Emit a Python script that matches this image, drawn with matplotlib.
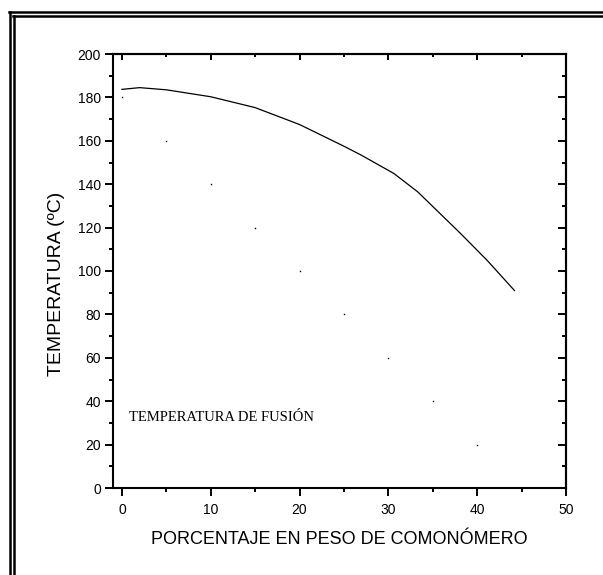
import numpy as np
import matplotlib
matplotlib.use('Agg')
import matplotlib.pyplot as plt
from matplotlib.lines import Line2D
from matplotlib.ticker import MultipleLocator

# curva de temperatura de fusion
pct = [0, 2, 5, 10, 15, 20, 25, 26.9, 30.6, 33.3, 38.1, 41.1, 44.2]
temp = [183.7, 184.5, 183.5, 180.3, 175.3, 167.5, 157.5, 153.5, 145.0, 136.5, 117.4, 105.0, 91.0]

# puntos sueltos
pct_pts = [0, 5, 10, 15, 20, 25, 30, 35, 40]
temp_pts = [180, 160, 140, 120, 100, 80, 60, 40, 20]

xticks = [0, 10, 20, 30, 40, 50]
yticks = [0, 20, 40, 60, 80, 100, 120, 140, 160, 180, 200]

W, H = 603, 575
plt.rcParams['font.family'] = ['Liberation Sans', 'DejaVu Sans']
fig = plt.figure(figsize=(W / 100, H / 100), dpi=100)
ax = fig.add_axes([113 / W, 1 - 488 / H, (566 - 113) / W, (488 - 54) / H])

ax.plot(pct, temp, color='black', lw=0.9)
ax.plot(pct_pts, temp_pts, ls='none', marker='s', ms=1.0, color='black', mew=0)

ax.set_xlim(-1, 50)
ax.set_ylim(0, 200)
ax.set_xticks(xticks)
ax.set_yticks(yticks)
ax.xaxis.set_minor_locator(MultipleLocator(5))
ax.yaxis.set_minor_locator(MultipleLocator(10))
for s in ax.spines.values():
    s.set_linewidth(1.5)
ax.tick_params(which='major', direction='out', length=5.8, width=1.4, labelsize=10, pad=3)
ax.tick_params(which='minor', direction='out', length=2.9, width=1.4)
ax.tick_params(axis='x', which='major', pad=5)

# ticks hacia dentro arriba y a la derecha
top = ax.secondary_xaxis('top')
top.set_xticks(xticks)
top.xaxis.set_minor_locator(MultipleLocator(5))
top.tick_params(which='major', direction='in', length=4.5, width=1.4, labeltop=False)
top.tick_params(which='minor', direction='in', length=2.5, width=1.4)
top.spines['top'].set_linewidth(1.5)
right = ax.secondary_yaxis('right')
right.set_yticks(yticks)
right.yaxis.set_minor_locator(MultipleLocator(10))
right.tick_params(which='major', direction='in', length=5.8, width=1.4, labelright=False)
right.tick_params(which='minor', direction='in', length=2.9, width=1.4)
right.spines['right'].set_linewidth(1.5)

ax.set_xlabel('PORCENTAJE EN PESO DE COMONÓMERO', fontsize=13)
ax.set_ylabel('TEMPERATURA (ºC)', fontsize=14)
ax.xaxis.set_label_coords(0.5, -0.098)
ax.yaxis.set_label_coords(-0.105, 0.47)

ax.text(0.8, 32.7, 'TEMPERATURA DE FUSIÓN', family=['Liberation Serif', 'DejaVu Serif'],
        fontsize=10.5, ha='left', va='center')

# marco doble
def fx(p):
    return p / W

def fy(p):
    return 1 - p / H

lw = 1.8
fig.add_artist(Line2D([fx(10.3), fx(10.3)], [fy(12.2), 0], transform=fig.transFigure, color='black', lw=lw))
fig.add_artist(Line2D([fx(13.9), fx(13.9)], [fy(16.2), 0], transform=fig.transFigure, color='black', lw=lw))
fig.add_artist(Line2D([fx(9.4), 1], [fy(12.2), fy(12.2)], transform=fig.transFigure, color='black', lw=lw))
fig.add_artist(Line2D([fx(13.0), 1], [fy(16.2), fy(16.2)], transform=fig.transFigure, color='black', lw=lw))

fig.savefig('out.png', dpi=100)
